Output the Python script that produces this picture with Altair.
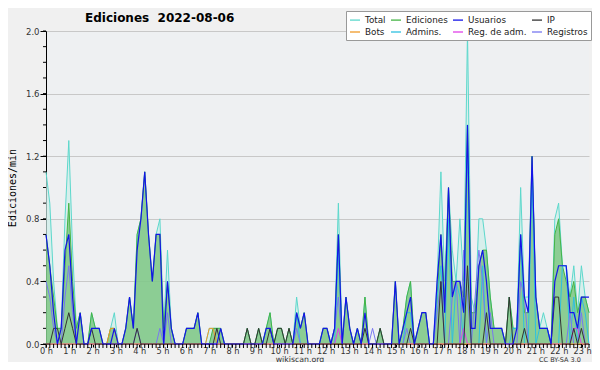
import altair as alt
import pandas as pd

names = ["Total", "Ediciones", "Usuarios", "IP", "Bots", "Admins.", "Reg. de adm.", "Registros"]
colors = ["#5cd8cc", "#44b444", "#1414e8", "#333333", "#f09a28", "#2ec0e0", "#e040e8", "#7878f0"]
hours = list(range(24))

# 10-minute bins, edits per minute (6 values per hour)
total = [
    1.1, 0.9, 0.4, 0.1, 0.1, 0.8,
    1.3, 0.6, 0.1, 0.2, 0.0, 0.0,
    0.2, 0.1, 0.1, 0.0, 0.0, 0.1,
    0.2, 0.0, 0.0, 0.1, 0.3, 0.1,
    0.7, 0.8, 1.1, 0.7, 0.4, 0.7,
    0.8, 0.1, 0.6, 0.1, 0.0, 0.0,
    0.0, 0.1, 0.1, 0.1, 0.2, 0.0,
    0.0, 0.1, 0.1, 0.1, 0.1, 0.0,
    0.0, 0.0, 0.0, 0.0, 0.0, 0.1,
    0.0, 0.0, 0.1, 0.0, 0.1, 0.2,
    0.0, 0.1, 0.1, 0.0, 0.1, 0.0,
    0.3, 0.1, 0.2, 0.0, 0.0, 0.0,
    0.0, 0.1, 0.1, 0.0, 0.1, 0.9,
    0.0, 0.3, 0.1, 0.0, 0.1, 0.0,
    0.3, 0.0, 0.0, 0.0, 0.1, 0.0,
    0.0, 0.0, 0.4, 0.0, 0.1, 0.3,
    0.4, 0.0, 0.1, 0.2, 0.2, 0.0,
    0.0, 0.4, 1.1, 0.4, 1.0, 0.6,
    0.4, 0.8, 0.4, 2.0, 0.3, 0.2,
    0.8, 0.8, 0.6, 0.3, 0.1, 0.1,
    0.1, 0.0, 0.3, 0.1, 0.1, 1.0,
    0.3, 0.3, 1.2, 0.3, 0.1, 0.2,
    0.1, 0.0, 0.8, 0.9, 0.5, 0.5,
    0.3, 0.5, 0.2, 0.5, 0.3, 0.2,
]
ediciones = [
    0.7, 0.5, 0.3, 0.1, 0.1, 0.5,
    0.9, 0.4, 0.1, 0.2, 0.0, 0.0,
    0.2, 0.1, 0.1, 0.0, 0.0, 0.1,
    0.1, 0.0, 0.0, 0.1, 0.3, 0.1,
    0.7, 0.8, 1.1, 0.7, 0.4, 0.7,
    0.7, 0.1, 0.4, 0.1, 0.0, 0.0,
    0.0, 0.1, 0.1, 0.1, 0.2, 0.0,
    0.0, 0.0, 0.1, 0.1, 0.1, 0.0,
    0.0, 0.0, 0.0, 0.0, 0.0, 0.1,
    0.0, 0.0, 0.1, 0.0, 0.1, 0.2,
    0.0, 0.1, 0.1, 0.0, 0.1, 0.0,
    0.2, 0.1, 0.2, 0.0, 0.0, 0.0,
    0.0, 0.1, 0.1, 0.0, 0.1, 0.7,
    0.0, 0.3, 0.1, 0.0, 0.1, 0.0,
    0.3, 0.0, 0.0, 0.0, 0.1, 0.0,
    0.0, 0.0, 0.4, 0.0, 0.1, 0.3,
    0.4, 0.0, 0.1, 0.2, 0.2, 0.0,
    0.0, 0.3, 0.7, 0.3, 1.0, 0.4,
    0.4, 0.4, 0.3, 1.4, 0.2, 0.2,
    0.5, 0.6, 0.6, 0.3, 0.1, 0.1,
    0.1, 0.0, 0.3, 0.1, 0.1, 0.7,
    0.2, 0.2, 1.2, 0.3, 0.1, 0.1,
    0.1, 0.0, 0.7, 0.8, 0.5, 0.4,
    0.3, 0.4, 0.2, 0.3, 0.3, 0.2,
]
usuarios = [
    0.7, 0.5, 0.2, 0.0, 0.1, 0.6,
    0.7, 0.3, 0.0, 0.2, 0.0, 0.0,
    0.1, 0.1, 0.1, 0.0, 0.0, 0.0,
    0.1, 0.0, 0.0, 0.1, 0.3, 0.1,
    0.6, 0.8, 1.1, 0.7, 0.4, 0.7,
    0.7, 0.0, 0.4, 0.1, 0.0, 0.0,
    0.0, 0.1, 0.1, 0.1, 0.2, 0.0,
    0.0, 0.0, 0.0, 0.0, 0.1, 0.0,
    0.0, 0.0, 0.0, 0.0, 0.0, 0.0,
    0.0, 0.0, 0.0, 0.0, 0.1, 0.1,
    0.0, 0.0, 0.0, 0.0, 0.0, 0.0,
    0.2, 0.1, 0.2, 0.0, 0.0, 0.0,
    0.0, 0.1, 0.1, 0.0, 0.1, 0.7,
    0.0, 0.3, 0.1, 0.0, 0.1, 0.0,
    0.2, 0.0, 0.0, 0.0, 0.0, 0.0,
    0.0, 0.0, 0.4, 0.0, 0.1, 0.2,
    0.3, 0.0, 0.1, 0.2, 0.2, 0.0,
    0.0, 0.4, 0.7, 0.2, 1.0, 0.3,
    0.4, 0.4, 0.2, 1.4, 0.1, 0.1,
    0.5, 0.6, 0.4, 0.1, 0.1, 0.1,
    0.1, 0.0, 0.0, 0.0, 0.1, 0.7,
    0.3, 0.2, 1.2, 0.3, 0.1, 0.1,
    0.1, 0.0, 0.4, 0.5, 0.5, 0.5,
    0.2, 0.2, 0.1, 0.3, 0.3, 0.3,
]
# sparse series: bin index -> edits per minute
ip = {2: 0.1, 3: 0.1, 5: 0.1, 6: 0.2, 7: 0.1, 12: 0.1, 24: 0.1, 45: 0.1, 53: 0.1,
      56: 0.1, 59: 0.1, 61: 0.1, 62: 0.1, 64: 0.1, 84: 0.1, 88: 0.1, 96: 0.1,
      104: 0.4, 111: 0.5, 116: 0.2, 122: 0.3, 126: 0.1, 134: 0.3, 135: 0.3,
      139: 0.1, 141: 0.1}
bots = {17: 0.1, 18: 0.1, 43: 0.1, 44: 0.1}
admins = {66: 0.2, 77: 0.6, 95: 0.2, 96: 0.2, 103: 0.3, 104: 0.5, 106: 0.8,
          108: 0.4, 109: 0.3, 111: 1.3, 115: 0.5, 123: 0.1, 124: 0.1, 125: 0.7,
          128: 1.1, 130: 0.1, 131: 0.1, 132: 0.1, 136: 0.5, 137: 0.5, 139: 0.3,
          141: 0.3, 142: 0.2}
reg_adm = {77: 0.1, 110: 0.1, 139: 0.1, 140: 0.1}
registros = {0: 0.4, 1: 0.3, 2: 0.1, 5: 0.3, 6: 0.5, 7: 0.2, 24: 0.1, 30: 0.1,
             32: 0.2, 66: 0.1, 76: 0.1, 77: 0.3, 86: 0.1, 95: 0.1, 103: 0.2,
             104: 0.4, 107: 0.3, 108: 0.4, 110: 0.6, 111: 0.3, 113: 0.3,
             114: 0.6, 115: 0.4, 117: 0.2, 125: 0.4, 126: 0.3, 138: 0.2, 141: 0.2}

NB = len(total)
# the source graph spaces its hour labels slightly wider than its data bins
LABEL_STRETCH = 1.023


def full(d):
    return [d.get(i, 0.0) for i in range(NB)]


series = [total, ediciones, usuarios, full(ip), full(bots), full(admins),
          full(reg_adm), full(registros)]

rows = []
for name, vals in zip(names, series):
    for i, v in enumerate(vals):
        rows.append({"h": i / 6, "v": v, "serie": name})
df = pd.DataFrame(rows)

W, H = 543, 313
FONT = "DejaVu Sans"

xscale = alt.Scale(domain=[0, (NB - 1) / 6], nice=False, zero=False)
yscale = alt.Scale(domain=[0, 2], nice=False)

xaxis = alt.Axis(values=[h * LABEL_STRETCH for h in hours],
                 labelExpr=f"round(datum.value / {LABEL_STRETCH}) + ' h'",
                 tickSize=3, tickColor="black", domainColor="black",
                 labelFontSize=8.2, labelFont=FONT, labelColor="#333",
                 labelPadding=0, grid=False, title=None, labelFlush=False,
                 labelOverlap=False)
yaxis = alt.Axis(values=[0, 0.4, 0.8, 1.2, 1.6, 2.0], format=".1f", tickSize=6,
                 tickColor="black", domainColor="black", labelFontSize=8.5,
                 labelFont=FONT, labelColor="#333", labelPadding=1, grid=True,
                 gridColor="#c8c8c8", title="Ediciones/min",
                 titleFont="DejaVu Sans Mono", titleFontSize=10,
                 titleFontWeight="normal", titleColor="black", titlePadding=8,
                 labelOverlap=False)

X = alt.X("h:Q", scale=xscale, axis=xaxis)
Y = alt.Y("v:Q", scale=yscale, axis=yaxis)

color = alt.Color(
    "serie:N",
    scale=alt.Scale(domain=names, range=colors),
    legend=alt.Legend(
        orient="none", legendX=300, legendY=-20, direction="horizontal",
        columns=4, symbolType="stroke", symbolSize=100, symbolStrokeWidth=1.3,
        labelFontSize=8.8, labelFont=FONT, labelColor="#222", fillColor="white",
        strokeColor="#999", padding=3, rowPadding=1, columnPadding=2,
        labelOffset=4, title=None, symbolOpacity=1,
    ),
)

base = alt.Chart(df).encode(x=X, y=Y)

area_total = base.transform_filter(alt.datum.serie == "Total").mark_area(
    color="#cdeeea", opacity=0.7)
area_ed = base.transform_filter(alt.datum.serie == "Ediciones").mark_area(
    color="#5ab55a", opacity=0.6)

draw_order = ["Total", "Ediciones", "Admins.", "Registros", "Reg. de adm.",
              "Bots", "IP", "Usuarios"]
widths = {"Usuarios": 1.2}
lines = [
    base.transform_filter(alt.datum.serie == n).mark_line(
        strokeWidth=widths.get(n, 1.0)).encode(color=color)
    for n in draw_order
]

ytick_vals = pd.DataFrame({"v": [k / 10 for k in range(21)]})
ymin = alt.Chart(ytick_vals).mark_rule(color="black").encode(
    y=Y, x=alt.value(-3), x2=alt.value(0))
xtick_vals = pd.DataFrame({"h": [i / 6 for i in range(NB)]})
xmin = alt.Chart(xtick_vals).mark_rule(color="black").encode(
    x=X, y=alt.value(H), y2=alt.value(H + 4))

one = pd.DataFrame({"t": ["wikiscan.org"], "c": ["CC BY-SA 3.0"],
                    "title": ["Ediciones\u00a0 2022-08-06"]})
shadow = alt.Chart(one).mark_rect(color="#7a7a7a").encode(
    x=alt.value(303), x2=alt.value(545), y=alt.value(-17), y2=alt.value(9))
site = alt.Chart(one).mark_text(font=FONT, fontSize=7.8, color="#333",
                                align="center", baseline="alphabetic").encode(
    text="t:N", x=alt.value(254), y=alt.value(330.5))
lic = alt.Chart(one).mark_text(font=FONT, fontSize=6.5, color="#333",
                               align="center", baseline="alphabetic").encode(
    text="c:N", x=alt.value(514), y=alt.value(330.5))
ttl = alt.Chart(one).mark_text(font=FONT, fontSize=12, fontWeight="bold",
                               color="black", align="left",
                               baseline="alphabetic").encode(
    text="title:N", x=alt.value(39), y=alt.value(-9))

chart = alt.layer(area_total, area_ed, *lines, ymin, xmin, shadow, site, lic, ttl).properties(
    width=W, height=H,
    autosize=alt.AutoSizeParams(type="none"),
    padding={"left": 38, "top": 23, "right": 3, "bottom": 18},
    background="#f0f0f0",
).configure_view(stroke=None, fill="#eef0f2")

chart.save("out.html", embed_options={"renderer": "svg", "actions": False})
